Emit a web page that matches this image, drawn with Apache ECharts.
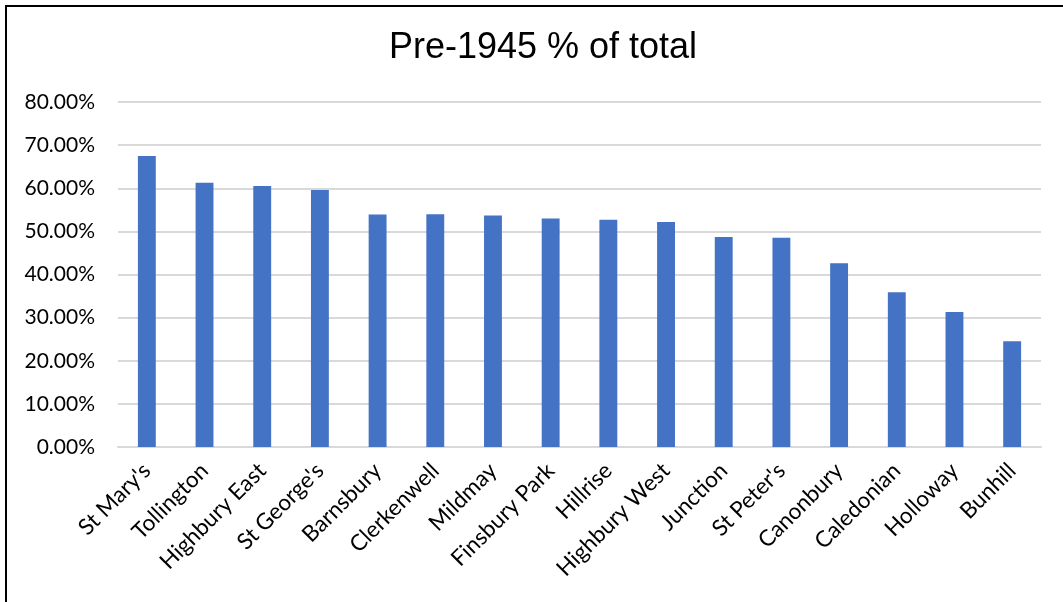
<!DOCTYPE html>
<html>
<head>
<meta charset="utf-8">
<script src="https://cdn.jsdelivr.net/npm/echarts@6/dist/echarts.min.js"></script>
<style>
html,body{margin:0;padding:0;background:#fff;}
#chart{width:1063px;height:602px;}
</style>
</head>
<body>
<div id="chart"></div>
<script>
const titleText = "Pre-1945 % of total";
const categories = ["St Mary's","Tollington","Highbury East","St George's","Barnsbury","Clerkenwell","Mildmay","Finsbury Park","Hillrise","Highbury West","Junction","St Peter's","Canonbury","Caledonian","Holloway","Bunhill"];
const values = [67.5, 61.3, 60.5, 59.6, 53.9, 54.0, 53.7, 53.0, 52.7, 52.2, 48.7, 48.5, 42.6, 35.9, 31.3, 24.5];
const yMin = 0, yMax = 80, yInterval = 10;

const chart = echarts.init(document.getElementById('chart'), null, {renderer:'canvas'});
chart.setOption({
  animation:false,
  backgroundColor:'#fff',
  graphic:[{
    type:'rect', silent:true, z:100,
    shape:{x:6, y:6, width:1200, height:800},
    style:{fill:'none', stroke:'#000', lineWidth:2}
  }],
  title:{
    text:titleText, left:538, top:25, textAlign:'center',
    textStyle:{fontFamily:'Liberation Sans', fontSize:36, fontWeight:'normal', color:'#000'}
  },
  grid:{left:118, right:22, top:102, bottom:155, containLabel:false},
  xAxis:{
    type:'category', data:categories,
    axisLine:{show:true, lineStyle:{color:'#d9d9d9', width:2}},
    axisTick:{show:false},
    axisLabel:{interval:0, rotate:45, margin:20, fontFamily:'Lato', fontSize:22.5, color:'#000'}
  },
  yAxis:{
    type:'value', min:yMin, max:yMax, interval:yInterval,
    axisLine:{show:false}, axisTick:{show:false},
    splitLine:{lineStyle:{color:'#d9d9d9', width:2}},
    axisLabel:{margin:23, fontFamily:'Lato', fontSize:21, color:'#000',
      formatter:v=>v.toFixed(2)+'%'}
  },
  series:[{
    type:'bar', data:values, barWidth:'31%',
    itemStyle:{color:'#4472c4'}
  }]
});
</script>
</body>
</html>
